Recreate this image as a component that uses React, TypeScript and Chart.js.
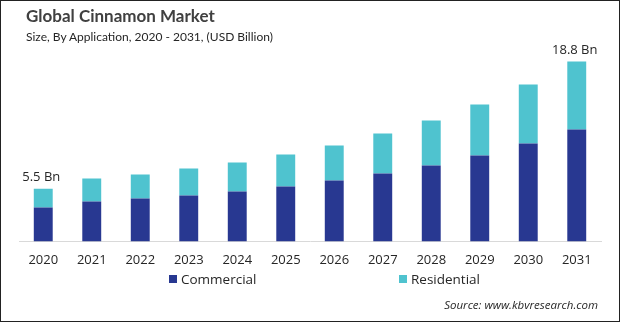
import React, { useEffect, useRef } from "react";
import { Chart, registerables } from "chart.js";

Chart.register(...registerables);

const years = ["2020", "2021", "2022", "2023", "2024", "2025", "2026", "2027", "2028", "2029", "2030", "2031"];
const commercial = [3.55, 4.18, 4.49, 4.8, 5.22, 5.74, 6.37, 7.1, 7.94, 8.98, 10.24, 11.7];
const residential = [1.95, 2.4, 2.51, 2.82, 3.03, 3.35, 3.66, 4.18, 4.7, 5.33, 6.16, 7.1];
const totalLabels = ["5.5 Bn", "", "", "", "", "", "", "", "", "", "", "18.8 Bn"];

const FONT = "'Open Sans', 'Noto Sans', sans-serif";
const TITLE_FONT = "Lato, 'Open Sans', sans-serif";
const COMM_COLOR = "#283891";
const RES_COLOR = "#4fc3cf";

const totalLabelPlugin = {
  id: "totalLabels",
  afterDatasetsDraw(chart: any) {
    const ctx = chart.ctx;
    const meta = chart.getDatasetMeta(1);
    ctx.save();
    ctx.font = `13px ${FONT}`;
    ctx.fillStyle = "#262626";
    ctx.textAlign = "center";
    ctx.textBaseline = "bottom";
    meta.data.forEach((el: any, i: number) => {
      const t = totalLabels[i];
      if (t) ctx.fillText(t, el.x - 2, el.y - 5);
    });
    ctx.restore();
  },
};

export default function App() {
  const ref = useRef<HTMLCanvasElement>(null);
  useEffect(() => {
    document.body.style.margin = "0";
    const chart = new Chart(ref.current!, {
      type: "bar",
      data: {
        labels: years,
        datasets: [
          { label: "Commercial", data: commercial, backgroundColor: COMM_COLOR, barPercentage: 0.39, categoryPercentage: 1 },
          { label: "Residential", data: residential, backgroundColor: RES_COLOR, barPercentage: 0.39, categoryPercentage: 1 },
        ],
      },
      options: {
        animation: false,
        responsive: false,
        maintainAspectRatio: false,
        layout: { padding: { left: 19, right: 19, top: 50, bottom: 43 } },
        plugins: { legend: { display: false }, tooltip: { enabled: false } },
        scales: {
          x: {
            stacked: true,
            grid: { display: false, drawTicks: false },
            border: { display: true, color: "#d9d9d9", width: 1 },
            ticks: { color: "#262626", font: { family: FONT, size: 13 }, padding: 11 },
          },
          y: {
            stacked: true,
            display: false,
            min: 0,
            max: 20,
          },
        },
      },
      plugins: [totalLabelPlugin],
    });
    return () => chart.destroy();
  }, []);

  return (
    <div
      style={{
        position: "relative",
        width: 620,
        height: 322,
        boxSizing: "border-box",
        border: "1px solid #222",
        background: "#fff",
        fontFamily: FONT,
        overflow: "hidden",
      }}
    >
      <canvas ref={ref} width={620} height={322} style={{ position: "absolute", left: -1, top: -1, width: 620, height: 322 }} />
      <div style={{ position: "absolute", left: 25, top: 4, fontSize: 17, fontWeight: 700, fontFamily: TITLE_FONT, color: "#404040", whiteSpace: "nowrap" }}>
        Global Cinnamon Market
      </div>
      <div style={{ position: "absolute", left: 25, top: 28, fontSize: 12, fontFamily: TITLE_FONT, color: "#262626", whiteSpace: "nowrap" }}>
        Size, By Application, 2020 - 2031, (USD Billion)
      </div>
      <div style={{ position: "absolute", left: 168, top: 269, display: "flex", alignItems: "center", fontSize: 13.5, color: "#262626" }}>
        <span style={{ display: "inline-block", width: 8, height: 8, background: COMM_COLOR, marginRight: 4 }} />
        Commercial
      </div>
      <div style={{ position: "absolute", left: 398, top: 269, display: "flex", alignItems: "center", fontSize: 13.5, color: "#262626" }}>
        <span style={{ display: "inline-block", width: 8, height: 8, background: RES_COLOR, marginRight: 4 }} />
        Residential
      </div>
      <div style={{ position: "absolute", right: 21, top: 296, fontSize: 11.5, fontStyle: "italic", color: "#262626", whiteSpace: "nowrap" }}>
        Source: www.kbvresearch.com
      </div>
    </div>
  );
}
